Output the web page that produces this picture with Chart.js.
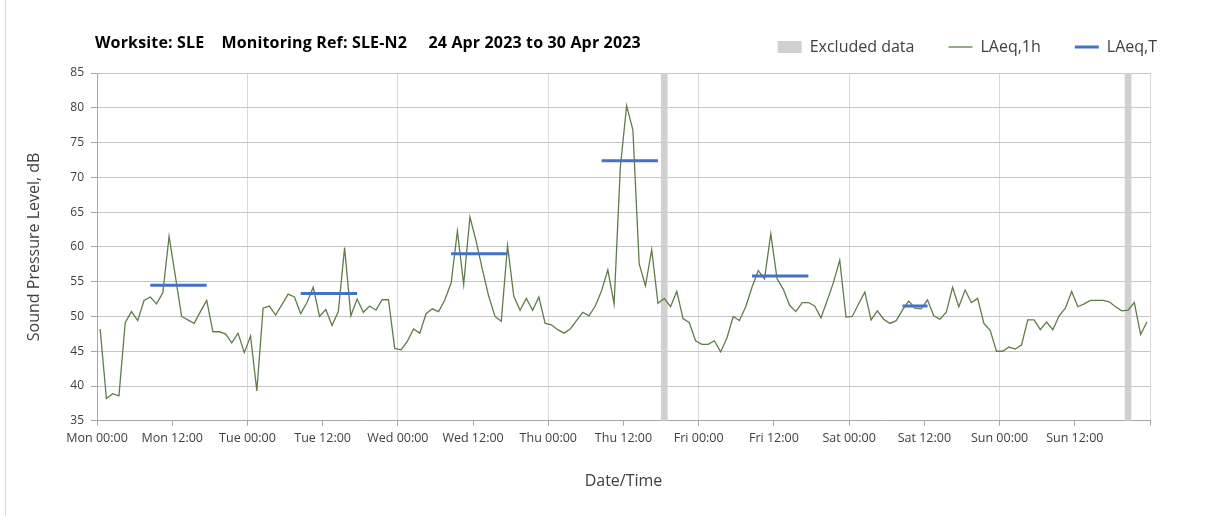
<!DOCTYPE html>
<html><head><meta charset="utf-8">
<script src="https://cdn.jsdelivr.net/npm/chart.js@4"></script>
<style>
html,body{margin:0;padding:0;background:#fff;}
#wrap{position:relative;width:1208px;height:516px;overflow:hidden;}
#frame{position:absolute;left:5px;top:0;width:1px;height:516px;background:#d9d9d9;}
#title{position:absolute;left:95px;top:31px;font:bold 16px 'Open Sans';letter-spacing:0.15px;color:#000;white-space:pre;line-height:22px;}
canvas{position:absolute;left:0;top:0;}
</style></head><body>
<div id="wrap"><div id="frame"></div><canvas id="c" width="1208" height="516"></canvas><div id="title">Worksite: SLE    Monitoring Ref: SLE-N2     24 Apr 2023 to 30 Apr 2023</div></div>
<script>
// ---- data ----
const tickLabels = ['Mon 00:00','Mon 12:00','Tue 00:00','Tue 12:00','Wed 00:00','Wed 12:00','Thu 00:00','Thu 12:00','Fri 00:00','Fri 12:00','Sat 00:00','Sat 12:00','Sun 00:00','Sun 12:00',''];
const laeq1hMon = [48.2,38.2,38.9,38.6,49.1,50.7,49.4,52.3,52.8,51.8,53.4,61.5,55.8,50.0,49.5,49.0,50.7,52.3,47.8,47.8,47.5,46.2,47.6,44.8];
const laeq1hTue = [47.2,39.3,51.2,51.5,50.2,51.7,53.2,52.8,50.4,52.0,54.2,50.0,51.0,48.7,50.7,59.9,50.1,52.5,50.6,51.5,50.9,52.4,52.4,45.4];
const laeq1hWed = [45.2,46.4,48.2,47.6,50.4,51.1,50.7,52.4,54.8,62.3,54.6,64.3,60.8,56.7,52.9,50.0,49.3,60.2,52.9,50.9,52.6,50.9,52.8,49.0];
const laeq1hThu = [48.8,48.1,47.6,48.2,49.4,50.6,50.1,51.5,53.7,56.7,51.8,71.5,80.3,76.8,57.6,54.4,59.6,51.9,52.6,51.4,53.6,49.7,49.1,46.5];
const laeq1hFri = [46.0,46.0,46.5,44.9,46.9,50.0,49.4,51.4,54.2,56.6,55.4,61.9,55.4,53.9,51.6,50.7,52.0,52.0,51.5,49.8,52.3,54.9,58.1,49.9];
const laeq1hSat = [50.0,51.8,53.5,49.5,50.8,49.6,49.0,49.4,50.9,52.2,51.2,51.1,52.4,50.1,49.6,50.6,54.2,51.4,53.8,52.0,52.6,49.0,48.0,45.0];
const laeq1hSun = [45.0,45.6,45.3,45.9,49.5,49.5,48.1,49.2,48.1,50.1,51.2,53.6,51.4,51.8,52.3,52.3,52.3,52.1,51.4,50.8,50.9,52.0,47.4,49.2];
const laeqTDay = [0,1,2,3,4,5];
const laeqTStartHour = [8,8,8,8,8,8];
const laeqTEndHour = [17,17,17,17,17,12];
const laeqTValue = [54.5,53.3,59.0,72.4,55.8,51.5];
const excludedDay = [3,6];
const excludedHour = [18,20];
const yMin = 35, yMax = 85;

// ---- build datasets ----
const laeq1h = [].concat(laeq1hMon,laeq1hTue,laeq1hWed,laeq1hThu,laeq1hFri,laeq1hSat,laeq1hSun);
const linePts = laeq1h.map((v,i)=>({x:i+0.5,y:v}));
const tPts = [];
laeqTDay.forEach((d,k)=>{
  for(let h=laeqTStartHour[k]; h<=laeqTEndHour[k]; h++) tPts.push({x:d*24+h+0.5,y:laeqTValue[k]});
  tPts.push({x:d*24+laeqTEndHour[k]+1,y:null});
});
const exPts = excludedDay.map((d,k)=>({x:d*24+excludedHour[k]+0.5,y:yMax}));

const FONT = "'Open Sans'";
const legendSpacer = {
  id:'legendSpacer',
  afterInit(chart){
    const lg = chart.legend;
    const fit = lg.fit.bind(lg);
    lg.fit = function(){ fit(); this.height += 8; };
  }
};

new Chart(document.getElementById('c'), {
  type:'line',
  data:{datasets:[
    {type:'bar',label:'Excluded data',data:exPts,backgroundColor:'#d0d0d0',borderWidth:0,barThickness:6,order:3,clip:0},
    {label:'LAeq,1h',data:linePts,borderColor:'#5e7d49',backgroundColor:'#5e7d49',borderWidth:1.3,pointRadius:0,tension:0,order:2},
    {label:'LAeq,T',data:tPts,borderColor:'#4472c4',backgroundColor:'#4472c4',borderWidth:3,pointRadius:0,tension:0,spanGaps:false,order:1}
  ]},
  options:{
    responsive:false,animation:false,events:[],
    layout:{padding:{left:6,right:17,top:5,bottom:20}},
    plugins:{
      tooltip:{enabled:false},
      legend:{position:'top',align:'end',
        labels:{usePointStyle:true,pointStyleWidth:24,boxHeight:12,padding:34,color:'#404040',font:{family:FONT,size:16},
          sort:(a,b)=>a.datasetIndex-b.datasetIndex,
          generateLabels:(chart)=>{
            const items = Chart.defaults.plugins.legend.labels.generateLabels(chart);
            items.forEach(it=>{ it.pointStyle = it.datasetIndex===0 ? 'rect' : 'line'; });
            return items;
          }}
      }
    },
    scales:{
      x:{type:'linear',min:0,max:168,offset:false,
        grid:{offset:false,color:(c)=> (c.tick && c.tick.value%24===0) ? '#d9d9d9' : 'rgba(0,0,0,0)',tickColor:'#a6a6a6',tickLength:5,lineWidth:1},
        border:{color:'#a6a6a6'},
        ticks:{stepSize:12,autoSkip:false,maxRotation:0,minRotation:0,padding:5,color:'#404040',font:{family:FONT,size:12.5},
          callback:(v)=> tickLabels[v/12] ?? ''},
        title:{display:true,text:'Date/Time',color:'#404040',font:{family:FONT,size:16},padding:{top:21,bottom:5}}
      },
      y:{type:'linear',min:yMin,max:yMax,position:'left',
        grid:{color:'#c6c6c6',tickColor:'#a6a6a6',tickLength:6},
        border:{color:'#a6a6a6'},
        ticks:{stepSize:5,padding:7,color:'#404040',font:{family:FONT,size:12}},
        title:{display:true,text:'Sound Pressure Level, dB',color:'#404040',font:{family:FONT,size:16},padding:{top:19,bottom:0}},
        afterFit:(s)=>{ s.width = 91; }
      },
      yR:{type:'linear',position:'right',display:true,
        grid:{display:false,drawTicks:false},border:{display:false},ticks:{display:false},
        afterFit:(s)=>{ s.width = 41; }
      }
    }
  },
  plugins:[legendSpacer]
});
</script>
</body></html>
